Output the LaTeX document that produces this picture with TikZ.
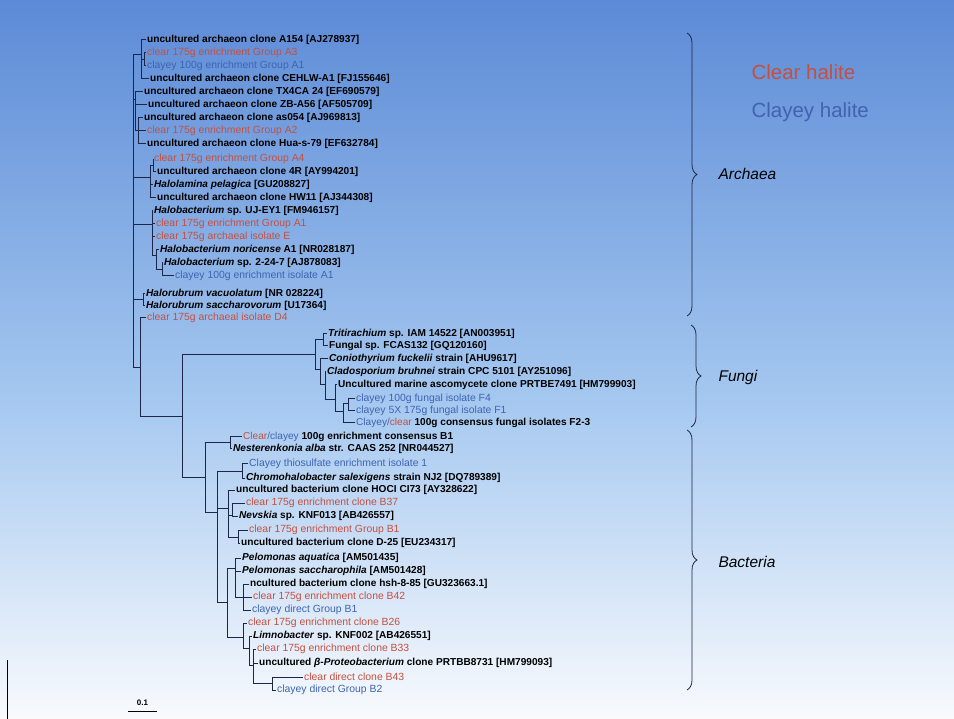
\documentclass[tikz,border=0pt]{standalone}
\usepackage{fontspec}
\setmainfont{Liberation Sans}
\usepackage{tikz}
\usetikzlibrary{decorations.pathreplacing}
\definecolor{clearred}{RGB}{196,80,64}
\definecolor{clayblue}{RGB}{62,100,178}
\definecolor{branch}{RGB}{28,38,72}
\definecolor{bgtop}{RGB}{92,138,214}
\definecolor{bgmid}{RGB}{165,200,240}
\definecolor{bgbot}{RGB}{248,250,253}

\begin{document}
\begin{tikzpicture}[x=1pt,y=-1pt,
  br/.style={draw=branch,line width=1pt},
  lf/.style={anchor=west,inner sep=1pt,font=\fontsize{10.1}{11}\selectfont\bfseries},
  lfr/.style={lf,font=\fontsize{10.4}{11}\selectfont,text=clearred},
  lfb/.style={lf,font=\fontsize{10.4}{11}\selectfont,text=clayblue},
  grp/.style={anchor=west,font=\fontsize{15.5}{18}\selectfont\itshape},
  brc/.style={draw=branch,line width=0.8pt,decorate,decoration={brace,amplitude=10pt}}]
\useasboundingbox (0,0) rectangle (954,719);
\shade[top color=bgtop,bottom color=bgmid] (0,0) rectangle (954,400);
\shade[top color=bgmid,bottom color=bgbot] (0,400) rectangle (954,719);
\draw[black,line width=1pt] (7,660) -- (7,719);

\node[lf] (a154) at (146,40) {uncultured archaeon clone A154 [AJ278937]};
\node[lfr] (grpa3) at (146,53) {clear 175g enrichment Group A3};
\node[lfb] (grpa1c) at (146,66) {clayey 100g enrichment Group A1};
\node[lf] (cehlw) at (149,79) {uncultured archaeon clone CEHLW-A1 [FJ155646]};
\node[lf] (tx4ca) at (143,92) {uncultured archaeon clone TX4CA 24 [EF690579]};
\node[lf] (zba56) at (147,105) {uncultured archaeon clone ZB-A56 [AF505709]};
\node[lf] (as054) at (143,118) {uncultured archaeon clone as054 [AJ969813]};
\node[lfr] (grpa2) at (146,131) {clear 175g enrichment Group A2};
\node[lf] (hua) at (146,144) {uncultured archaeon clone Hua-s-79 [EF632784]};
\node[lfr] (grpa4) at (153,159) {clear 175g enrichment Group A4};
\node[lf] (c4r) at (156,172) {uncultured archaeon clone 4R [AY994201]};
\node[lf] (halol) at (153,185) {\itshape Halolamina pelagica \upshape[GU208827]};
\node[lf] (hw11) at (156,198) {uncultured archaeon clone HW11 [AJ344308]};
\node[lf] (ujey1) at (153,211) {\textit{Halobacterium} sp. UJ-EY1 [FM946157]};
\node[lfr] (grpa1) at (155,224) {clear 175g enrichment Group A1};
\node[lfr] (isoe) at (155,237) {clear 175g archaeal isolate E};
\node[lf] (noric) at (159,250) {\textit{Halobacterium noricense} A1 [NR028187]};
\node[lf] (h2247) at (163,263) {\textit{Halobacterium} sp. 2-24-7 [AJ878083]};
\node[lfb] (isoa1) at (174,276) {clayey 100g enrichment isolate A1};
\node[lf] (vacuo) at (145,294) {\textit{Halorubrum vacuolatum} [NR 028224]};
\node[lf] (saccv) at (145,306) {\textit{Halorubrum saccharovorum} [U17364]};
\node[lfr] (isod4) at (146,318) {clear 175g archaeal isolate D4};

\node[lf] (trit) at (327,334) {\textit{Tritirachium} sp. IAM 14522 [AN003951]};
\node[lf] (fungal) at (328,346) {Fungal sp. FCAS132 [GQ120160]};
\node[lf] (coni) at (328,359) {\textit{Coniothyrium fuckelii} strain [AHU9617]};
\node[lf] (clado) at (326,372) {\textit{Cladosporium bruhnei} strain CPC 5101 [AY251096]};
\node[lf] (marine) at (337,385) {Uncultured marine ascomycete clone PRTBE7491 [HM799903]};
\node[lfb] (f4) at (355,399) {clayey 100g fungal isolate F4};
\node[lfb] (f1) at (355,411) {clayey 5X 175g fungal isolate F1};
\node[lf] (f23) at (355,423) {\mdseries\textcolor{clayblue}{Clayey/}\textcolor{clearred}{clear} \bfseries 100g consensus fungal isolates F2-3};

\node[lf] (ccb1) at (242,437) {\mdseries\textcolor{clearred}{Clear}\textcolor{clayblue}{/clayey} \bfseries 100g enrichment consensus B1};
\node[lf] (nest) at (232,449) {\textit{Nesterenkonia alba} str. CAAS 252 [NR044527]};
\node[lfb] (thio) at (248,464) {Clayey thiosulfate enrichment isolate 1};
\node[lf] (chromo) at (245,478) {\textit{Chromohalobacter salexigens} strain NJ2 [DQ789389]};
\node[lf] (hocl) at (235,490) {uncultured bacterium clone HOCI CI73 [AY328622]};
\node[lfr] (b37) at (245,503) {clear 175g enrichment clone B37};
\node[lf] (nevs) at (238,516) {\textit{Nevskia} sp. KNF013 [AB426557]};
\node[lfr] (grpb1) at (248,530) {clear 175g enrichment Group B1};
\node[lf] (d25) at (240,543) {uncultured bacterium clone D-25 [EU234317]};
\node[lf] (aqua) at (241,558) {\textit{Pelomonas aquatica} [AM501435]};
\node[lf] (sacch) at (241,571) {\textit{Pelomonas saccharophila} [AM501428]};
\node[lf] (hsh) at (249,584) {ncultured bacterium clone hsh-8-85 [GU323663.1]};
\node[lfr] (b42) at (252,597) {clear 175g enrichment clone B42};
\node[lfb] (clyb1) at (251,610) {clayey direct Group B1};
\node[lfr] (b26) at (247,623) {clear 175g enrichment clone B26};
\node[lf] (limno) at (252,636) {\textit{Limnobacter} sp. KNF002 [AB426551]};
\node[lfr] (b33) at (256,649) {clear 175g enrichment clone B33};
\node[lf] (beta) at (258,663) {uncultured \textit{β-Proteobacterium} clone PRTBB8731 [HM799093]};
\node[lfr] (b43) at (303,677) {clear direct clone B43};
\node[lfb] (b2) at (276,690) {clayey direct Group B2};

\coordinate (ar) at (133,200);
\coordinate (ac1) at (141,55);
\coordinate (ap1) at (144,60);
\coordinate (ag2) at (135,100);
\coordinate (ag3) at (138,131);
\coordinate (ag4) at (150,178);
\coordinate (ap4) at (153,166);
\coordinate (ag5) at (152,225);
\coordinate (ag6) at (156,256);
\coordinate (ag7) at (162,270);
\coordinate (ag8) at (143,300);
\coordinate (nr) at (140,368);
\coordinate (fb) at (182,417);
\coordinate (fg0) at (315,355);
\coordinate (fp1) at (323,340);
\coordinate (fg1) at (320,370);
\coordinate (fg2) at (325,385);
\coordinate (fg3) at (335,400);
\coordinate (fg4) at (343,412);
\coordinate (fp2) at (348,404);
\coordinate (ba0) at (205,477);
\coordinate (bn) at (230,443);
\coordinate (bl) at (217,512);
\coordinate (bt) at (242,471);
\coordinate (bc) at (228,508);
\coordinate (bc1) at (232,515);
\coordinate (bc2) at (238,537);
\coordinate (blo) at (227,602);
\coordinate (pg) at (235,568);
\coordinate (hg) at (243,597);
\coordinate (lg) at (243,637);
\coordinate (lg2) at (249,648);
\coordinate (lg3) at (253,665);
\coordinate (lg4) at (272,683);

\foreach \p/\c in {ar/ac1,ar/ag2,ar/ag4,ar/ag5,ar/ag8,ar/nr,
  ac1/a154,ac1/ap1,ac1/cehlw,ap1/grpa3,ap1/grpa1c,
  ag2/tx4ca,ag2/zba56,ag2/ag3,ag3/as054,ag3/grpa2,ag3/hua,
  ag4/ap4,ag4/halol,ag4/hw11,ap4/grpa4,ap4/c4r,
  ag5/ujey1,ag5/grpa1,ag5/isoe,ag5/ag6,ag6/noric,ag6/ag7,ag7/h2247,ag7/isoa1,
  ag8/vacuo,ag8/saccv,nr/isod4,nr/fb,fb/fg0,fb/ba0,
  fg0/fp1,fg0/fg1,fp1/trit,fp1/fungal,fg1/coni,fg1/fg2,fg2/clado,fg2/fg3,
  fg3/marine,fg3/fg4,fg4/fp2,fg4/f23,fp2/f4,fp2/f1,
  ba0/bn,ba0/bl,bn/ccb1,bn/nest,bl/bt,bl/bc,bl/blo,bt/thio,bt/chromo,
  bc/hocl,bc/bc1,bc/bc2,bc1/b37,bc1/nevs,bc2/grpb1,bc2/d25,
  blo/pg,blo/lg,pg/aqua,pg/sacch,pg/hg,hg/hsh,hg/b42,hg/clyb1,
  lg/b26,lg/lg2,lg2/limno,lg2/lg3,lg3/b33,lg3/beta,lg3/lg4,lg4/b43,lg4/b2}
  \draw[br] (\p) |- (\c);

\coordinate (arT) at (687,33);
\coordinate (arB) at (687,316);
\coordinate (fuT) at (691,325);
\coordinate (fuB) at (691,427);
\coordinate (baT) at (687,430);
\coordinate (baB) at (687,690);
\draw[brc] (arT) -- (arB);
\draw[brc] (fuT) -- (fuB);
\draw[brc] (baT) -- (baB);
\node[grp] (archaea) at (715,174) {Archaea};
\node[grp] (fungi) at (715,377) {Fungi};
\node[grp] (bacteria) at (715,562) {Bacteria};

\node[anchor=west,text=clearred,font=\fontsize{20.5}{24}\selectfont] (clearkey) at (748,72) {Clear halite};
\node[anchor=west,text=clayblue,font=\fontsize{20.5}{24}\selectfont] (clayeykey) at (748,112) {Clayey halite};

\coordinate (sbl) at (128,711);
\coordinate (sbr) at (157,711);
\draw[black,line width=0.8pt] (sbl) -- (sbr);
\node[font=\fontsize{8}{9}\selectfont\bfseries] (sbt) at (142.5,703) {0.1};
\end{tikzpicture}
\end{document}
